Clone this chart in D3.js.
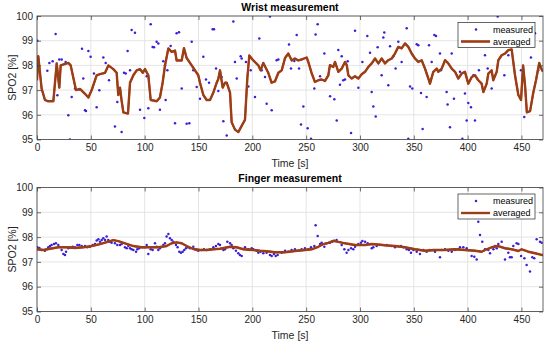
<!DOCTYPE html>
<html>
<head>
<meta charset="utf-8">
<script src="https://cdn.jsdelivr.net/npm/d3@7"></script>
<style>
  body { margin: 0; background: #fff; }
  svg { font-family: "Liberation Sans", Arial, sans-serif; }
</style>
</head>
<body>
<div id="wrapper"></div>
<script>
/* global d3 */

// ---- data ----
const xTicks = [0, 50, 100, 150, 200, 250, 300, 350, 400, 450]
const yTicks = [95, 96, 97, 98, 99, 100]

// wrist: measured points [time, spo2]
const wristMeasured = [
  [0.3,99.0],[9.6,97.78],[11.5,98.1],[14.5,98.17],[17.3,99.27],[18.9,96.79],[20.7,98.24],
  [22.9,98.24],[26.6,98.14],[29.1,95.98],[30.6,95.0],[32.2,96.72],[35.3,97.06],[39.3,97.02],
  [41.8,98.67],[43,97.47],[44.6,96.18],[45.5,96.15],[47.7,98.58],[49.8,98.35],[52.9,97.67],
  [55.4,96.31],[57.9,96.99],[61.6,98.32],[63.8,98.1],[66.9,97.4],[72.4,95.53],[74.6,96.52],
  [78.6,95.3],[80.8,97.7],[82.4,97.67],[84.2,98.58],[86.4,97.8],[87.9,99.43],[91,99.32],
  [95.7,96.2],[99.7,95.87],[101.9,97.56],[103.4,96.27],[105.6,99.67],[107.4,98.75],
  [108.7,98.73],[111.1,98.96],[112.7,98.89],[114.2,96.2],[117.3,98.17],[118.9,98.01],
  [119.5,96.6],[121.1,97.8],[124.2,98.79],[128.2,95.66],[129.7,99.3],[131.9,99.34],
  [134.4,97.06],[139,95.64],[141.5,95.66],[143.7,98.96],[145.2,97.8],[148.3,97.13],
  [151.4,96.65],[154.5,98.35],[157,97.43],[159.8,97.3],[163.2,99.46],[164.4,99.46],
  [166.3,97.87],[168.4,96.96],[171.5,97.53],[173.1,95.74],[176.2,95.16],[182.4,99.78],
  [183.9,98.14],[185.5,97.47],[189.2,98.37],[190.1,98.28],[194.1,98.14],[196.3,97.15],
  [198.5,97.8],[202.5,96.72],[206.5,99.09],[208.7,97.8],[211.8,97.53],[213.3,96.45],
  [216.4,99.98],[218,96.18],[222.6,98.21],[224.2,98.24],[234.1,98.85],[235.9,97.87],
  [239,98.18],[241.2,99.23],[243.4,97.87],[245.2,95.61],[247.4,96.34],[251.4,95.46],
  [254.5,95.03],[257.6,97.06],[258.8,99.25],[260.7,99.67],[262.9,97.56],[266.9,98.48],
  [272.2,96.75],[276.2,96.63],[278.4,95.77],[279.9,98.62],[281.4,97.22],[283,98.37],
  [284.5,97.4],[286.1,97.43],[288.6,98.17],[291.7,95.26],[295.4,99.4],[298.5,97.1],
  [302.2,98.14],[306.8,99.19],[309.3,98.51],[310.9,96.92],[312.4,96.34],[314.6,95.93],
  [316.4,98.73],[320.1,97.6],[321.7,99.13],[322.6,99.33],[326.3,97.2],[327.9,98.78],
  [331,98.37],[333.1,97.87],[335.6,98.96],[338.7,98.14],[343.4,99.5],[344.9,95.03],
  [346.5,97.15],[348.6,97.06],[352.7,98.86],[354.2,98.82],[356.7,96.88],[358.2,95.43],
  [361.9,96.72],[364.1,98.82],[366.6,98.14],[369.1,99.23],[370.6,99.19],[374.3,98.48],
  [375.2,97.8],[380.5,96.92],[381.4,96.42],[383.6,95.5],[385.2,98.48],[387.3,96.65],
  [392.9,97.74],[395.1,95.03],[397.5,96.86],[399.1,95.77],[400.6,96.48],[403.1,96.31],
  [405.3,97.6],[406.8,95.77],[407.8,99.46],[410.5,97.8],[416.1,98.41],[418.6,97.87],
  [422.3,97.06],[427.9,99.98],[434.1,97.6],[437.8,98.41],[449.5,97.8],[452.6,95.91],
  [458.8,98.32],[462.6,99.3],[465.6,97.8]
]

// wrist: averaged curve
const wristAveraged = [
  [0,97.4],[1.2,98.37],[4.3,97.06],[7.4,96.6],[10,96.55],[15.2,96.55],[18.3,98.08],
  [20.7,97.1],[22,98.0],[29.1,98.1],[31.3,98.0],[36.2,97.0],[39.9,97.05],[44.6,96.85],
  [47.7,96.7],[50.8,97.0],[55.4,97.6],[58.5,97.65],[63.2,97.7],[66.3,98.0],[70.9,97.85],
  [74,97.7],[75.5,96.8],[77.1,97.1],[78.5,96.6],[80.2,96.1],[84.5,96.05],[86.4,97.3],
  [89.5,97.6],[92.6,97.8],[95.7,97.85],[98.2,97.7],[100.3,97.85],[103.4,97.6],[105.6,96.6],
  [111.2,96.55],[114.2,96.7],[116.7,97.3],[118.9,98.0],[122,98.69],[125.1,98.55],
  [128.2,98.6],[129.7,98.2],[134.4,98.2],[136.5,98.7],[139,98.3],[142.1,98.1],[145.2,97.9],
  [149.8,97.6],[151.4,97.3],[154.5,96.8],[157.6,96.6],[160.7,96.6],[163.8,96.9],
  [166.9,97.3],[168.4,97.45],[170,97.8],[172.5,97.1],[174.6,97.3],[176.2,97.3],[179.3,96.9],
  [180.8,95.7],[183.9,95.4],[187,95.3],[190.1,95.55],[193.2,95.8],[195.4,97.5],[197.2,98.4],
  [200.9,98.2],[205.6,98.0],[207.7,97.8],[210.2,98.1],[214.8,97.7],[217.9,97.3],[221,97.35],
  [224.2,97.7],[227.3,97.8],[230.4,98.3],[233.4,98.48],[236.6,98.2],[239.6,98.28],
  [242.7,98.2],[245.9,98.24],[250.5,98.32],[252,98.14],[255.2,97.67],[258.2,97.33],
  [261.3,97.4],[264.4,97.43],[267.5,97.37],[270.6,97.6],[272.1,98.01],[275.2,97.94],
  [276.8,98.14],[279.9,97.74],[283,97.87],[286.1,98.14],[287.7,98.01],[289.2,97.6],
  [292.3,97.47],[295.4,97.56],[298.5,97.47],[301.6,97.64],[304.7,97.74],[307.8,97.94],
  [310.9,98.08],[314,98.28],[317.1,98.08],[320.2,98.28],[323.2,98.08],[326.3,98.21],
  [329.5,98.28],[332.5,98.48],[335.6,98.75],[338.7,98.69],[341.8,98.89],[344.9,98.75],
  [348,98.48],[351.1,98.28],[354.2,98.14],[357.3,98.21],[360.4,97.87],[363.5,97.47],
  [365,97.26],[368.1,97.74],[371.3,97.87],[372.7,97.74],[375.9,97.87],[379,98.21],
  [382,98.08],[385.2,97.87],[388.3,97.74],[391.3,97.47],[394.5,97.67],[397.5,97.74],
  [400.6,97.26],[403.8,97.53],[406.8,97.6],[409.9,97.4],[413,97.26],[414.6,96.92],
  [417.7,97.26],[419.2,97.67],[422.3,97.8],[423.8,97.4],[427,97.74],[428.5,98.21],
  [431.6,98.41],[434.7,98.48],[437.8,98.62],[440.9,98.65],[442.4,98.14],[444,97.6],
  [447.1,96.8],[449.6,96.6],[451.5,98.0],[453.3,97.2],[455,96.1],[458,96.15],[461,96.9],
  [463.5,97.4],[466.5,98.1],[468,97.9],[470,97.75]
]

// finger: measured points
const fingerMeasured = [
  [0.3,97.59],[2.2,97.56],[4.3,97.48],[7.4,97.45],[10.5,97.59],[12.1,97.64],[13.6,97.68],
  [15.8,97.72],[17.6,97.75],[19.8,97.68],[22.9,97.48],[24.5,97.32],[26,97.28],[27,97.41],
  [29.1,97.55],[30.6,97.59],[33.1,97.61],[35.3,97.59],[37.5,97.68],[39.3,97.68],[41.5,97.64],
  [44.6,97.64],[46.7,97.59],[49.2,97.61],[51.7,97.68],[53.9,97.72],[55.4,97.86],[57,97.91],
  [58.5,97.81],[60.1,97.88],[61.6,97.95],[63.2,97.88],[64.7,98.02],[66.2,97.88],[67.8,97.81],
  [69.3,97.77],[72.4,97.75],[74.6,97.68],[77.1,97.68],[78.6,97.72],[81.7,97.59],[83.3,97.55],
  [84.8,97.64],[86.4,97.55],[87.9,97.51],[89.5,97.48],[92,97.41],[93.2,97.51],[95,97.55],
  [98.1,97.59],[100.3,97.59],[101.9,97.68],[103.4,97.32],[105.6,97.51],[107.4,97.48],
  [109.6,97.75],[111.1,97.61],[112.7,97.48],[114.2,97.55],[117.3,97.68],[118.9,97.75],
  [120.4,98.02],[122,98.12],[123.5,97.95],[125.1,97.88],[126.6,97.81],[129.1,97.68],
  [130.6,97.59],[132.2,97.41],[133.7,97.37],[135.3,97.41],[136.8,97.48],[138.4,97.55],
  [140.5,97.59],[142.1,97.55],[145.2,97.61],[146.7,97.51],[148.3,97.48],[149.8,97.45],
  [152.9,97.48],[155.1,97.51],[157.6,97.48],[160.7,97.51],[163.8,97.59],[166.2,97.64],
  [168.4,97.72],[170,97.68],[173.1,97.48],[174.6,97.51],[176.8,97.81],[179.3,97.75],
  [180.8,97.68],[182.4,97.55],[184.8,97.45],[187,97.35],[188.5,97.28],[190.1,97.24],
  [193.2,97.59],[196.3,97.51],[197.8,97.48],[199.4,97.55],[200.9,97.51],[204,97.45],
  [205.6,97.37],[207.7,97.41],[210.2,97.35],[213.3,97.37],[216.4,97.28],[218,97.24],
  [220.1,97.32],[221.7,97.24],[223.5,97.28],[227.3,97.37],[230.4,97.45],[233.5,97.41],
  [236.5,97.48],[239.6,97.51],[242.7,97.45],[245.8,97.51],[248.9,97.55],[252,97.51],
  [254.5,97.59],[257.6,97.64],[258.8,98.48],[260.7,98.04],[262.9,97.72],[264.4,97.77],
  [266.9,97.61],[269.1,97.75],[272.2,97.77],[274.3,97.81],[276.2,97.85],[278.3,97.88],
  [283,97.68],[285.5,97.51],[287.6,97.37],[289.2,97.48],[291.7,97.55],[293.8,97.51],
  [295.4,97.61],[298.5,97.72],[300.9,97.77],[302.2,97.84],[304.7,97.81],[307.1,97.75],
  [310.9,97.55],[312.4,97.59],[315.5,97.64],[318.6,97.68],[324.8,97.68],[329.4,97.64],
  [332.5,97.59],[338.1,97.64],[340.3,97.59],[343.4,97.51],[345.5,97.48],[347.4,97.37],
  [349.6,97.48],[352.7,97.41],[355.7,97.32],[358.8,97.48],[361.9,97.41],[365,97.48],
  [368.1,97.48],[369.7,97.41],[374.3,97.19],[375.9,97.48],[379,97.51],[382.1,97.45],
  [385.2,97.41],[388.2,97.48],[391.4,97.51],[392.9,97.59],[396,97.59],[399.1,97.55],
  [403.7,97.24],[406.2,97.21],[408.4,97.1],[409.9,98.62],[411.5,98.08],[413.6,97.81],
  [416.1,97.51],[419.2,97.48],[420.8,97.35],[423.9,97.51],[425.4,97.64],[427,97.55],
  [428.5,97.72],[431.6,97.81],[434.7,97.1],[437.8,97.37],[439.3,97.19],[440.9,97.19],
  [442.4,97.64],[445.5,97.75],[447.1,97.72],[449.6,97.24],[452.7,97.15],[454.8,96.88],
  [457.9,96.61],[460.1,97.19],[461.9,97.15],[464.1,97.91],[467.2,97.81],[468.7,97.77]
]

// finger: averaged curve
const fingerAveraged = [
  [0,97.51],[5.9,97.48],[12.1,97.53],[19.8,97.59],[27.5,97.59],[35.3,97.56],[43,97.59],
  [50.8,97.64],[58.5,97.72],[64.7,97.8],[70.9,97.88],[75.5,97.84],[81.7,97.75],[89.5,97.64],
  [97.2,97.59],[105,97.59],[112.7,97.59],[120.4,97.64],[125.1,97.75],[129.7,97.79],
  [134.4,97.75],[139,97.64],[145.2,97.52],[151.4,97.48],[157.6,97.48],[163.8,97.51],
  [170,97.53],[179.3,97.61],[185.4,97.59],[191.6,97.51],[200.9,97.48],[207.1,97.45],
  [213.3,97.43],[221,97.39],[230.4,97.39],[239.6,97.44],[248.9,97.48],[255.1,97.51],
  [261.3,97.61],[266,97.72],[270.6,97.77],[275.2,97.85],[279.9,97.81],[286.1,97.75],
  [295.4,97.68],[304.7,97.68],[310.9,97.72],[317.1,97.7],[323.2,97.67],[332.5,97.64],
  [341.8,97.59],[351.1,97.51],[360.4,97.45],[369.7,97.48],[379,97.48],[388.2,97.51],
  [397.5,97.48],[406.8,97.45],[413,97.41],[417.7,97.51],[422.3,97.59],[428.5,97.64],
  [434.7,97.55],[440.9,97.51],[447.1,97.44],[450.2,97.51],[456.4,97.41],[462.6,97.35],
  [468.7,97.28],[470,97.28]
]

// ---- layout ----
const dimensions = {
  width: 550,
  height: 347,
  plotLeft: 37,
  plotRight: 543,
}

const panels = [
  {
    title: "Wrist measurement",
    measured: wristMeasured,
    averaged: wristAveraged,
    top: 16,
    bottom: 139.5,
  },
  {
    title: "Finger measurement",
    measured: fingerMeasured,
    averaged: fingerAveraged,
    top: 187.5,
    bottom: 311.5,
  },
]

const xAccessor = d => d[0]
const yAccessor = d => d[1]

const wrapper = d3.select("#wrapper")
  .append("svg")
  .attr("width", dimensions.width)
  .attr("height", dimensions.height)

const xScale = d3.scaleLinear()
  .domain([0, 470])
  .range([dimensions.plotLeft, dimensions.plotRight])

function drawPanel(panel, i) {
  const g = wrapper.append("g")
  const plotW = dimensions.plotRight - dimensions.plotLeft
  const plotH = panel.bottom - panel.top

  const yScale = d3.scaleLinear()
    .domain([95, 100])
    .range([panel.bottom, panel.top])

  // grid
  g.append("g")
    .selectAll("line")
    .data(xTicks)
    .join("line")
      .attr("x1", d => xScale(d)).attr("x2", d => xScale(d))
      .attr("y1", panel.top).attr("y2", panel.bottom)
      .attr("stroke", "#dedede").attr("stroke-width", 0.8)
  g.append("g")
    .selectAll("line")
    .data(yTicks)
    .join("line")
      .attr("x1", dimensions.plotLeft).attr("x2", dimensions.plotRight)
      .attr("y1", d => yScale(d)).attr("y2", d => yScale(d))
      .attr("stroke", "#dedede").attr("stroke-width", 0.8)

  // clip to plot area
  const clipId = `clip-${i}`
  g.append("clipPath").attr("id", clipId)
    .append("rect")
      .attr("x", dimensions.plotLeft).attr("y", panel.top)
      .attr("width", plotW).attr("height", plotH)

  const data = g.append("g").attr("clip-path", `url(#${clipId})`)

  // measured dots
  data.selectAll("circle")
    .data(panel.measured)
    .join("circle")
      .attr("cx", d => xScale(xAccessor(d)))
      .attr("cy", d => yScale(yAccessor(d)))
      .attr("r", 1.25)
      .attr("fill", "#3a1fd6")

  // averaged line (red halo under brown)
  const lineGenerator = d3.line()
    .x(d => xScale(xAccessor(d)))
    .y(d => yScale(yAccessor(d)))

  data.append("path")
    .attr("d", lineGenerator(panel.averaged))
    .attr("fill", "none")
    .attr("stroke", "#d8261a")
    .attr("stroke-width", 2.4)
    .attr("stroke-linejoin", "round")
  data.append("path")
    .attr("d", lineGenerator(panel.averaged))
    .attr("fill", "none")
    .attr("stroke", "#8a4716")
    .attr("stroke-width", 1.8)
    .attr("stroke-linejoin", "round")

  // axes
  const xAxis = g.append("g")
    .attr("transform", `translate(0, ${panel.bottom})`)
    .call(d3.axisBottom(xScale).tickValues(xTicks).tickSize(-4).tickPadding(4))
  const yAxis = g.append("g")
    .attr("transform", `translate(${dimensions.plotLeft}, 0)`)
    .call(d3.axisLeft(yScale).tickValues(yTicks).tickSize(-4).tickPadding(4)
      .tickFormat(d3.format("d")))
  const xAxisTop = g.append("g")
    .attr("transform", `translate(0, ${panel.top})`)
    .call(d3.axisTop(xScale).tickValues(xTicks).tickSize(-4).tickFormat(""))
  const yAxisRight = g.append("g")
    .attr("transform", `translate(${dimensions.plotRight}, 0)`)
    .call(d3.axisRight(yScale).tickValues(yTicks).tickSize(-4).tickFormat(""))

  ;[xAxis, yAxis, xAxisTop, yAxisRight].forEach(ax => {
    ax.select(".domain").remove()
    ax.selectAll(".tick line").attr("stroke", "#333").attr("stroke-width", 0.7)
    ax.selectAll(".tick text")
      .attr("fill", "#262626")
      .style("font-size", "10px")
      .style("font-family", "'Liberation Sans', Arial, sans-serif")
  })

  // frame
  g.append("rect")
    .attr("x", dimensions.plotLeft).attr("y", panel.top)
    .attr("width", plotW).attr("height", plotH)
    .attr("fill", "none")
    .attr("stroke", "#404040")
    .attr("stroke-width", 0.8)

  // title and labels
  g.append("text")
    .attr("x", (dimensions.plotLeft + dimensions.plotRight) / 2)
    .attr("y", panel.top - 5.5)
    .attr("text-anchor", "middle")
    .attr("font-weight", "bold")
    .style("font-size", "10.5px")
    .attr("fill", "#000")
    .text(panel.title)

  g.append("text")
    .attr("x", (dimensions.plotLeft + dimensions.plotRight) / 2)
    .attr("y", panel.bottom + 27.5)
    .attr("text-anchor", "middle")
    .style("font-size", "10.5px")
    .attr("fill", "#262626")
    .text("Time [s]")

  g.append("text")
    .attr("transform", `translate(15.5, ${(panel.top + panel.bottom) / 2}) rotate(-90)`)
    .attr("text-anchor", "middle")
    .style("font-size", "10.5px")
    .attr("fill", "#262626")
    .text("SPO2 [%]")

  // legend
  const lx = 458
  const ly = panel.top + 6.5
  const legend = g.append("g")
  legend.append("rect")
    .attr("x", lx).attr("y", ly)
    .attr("width", 77).attr("height", 25)
    .attr("fill", "#fff")
    .attr("stroke", "#262626")
    .attr("stroke-width", 0.7)
  legend.append("circle")
    .attr("cx", lx + 18).attr("cy", ly + 7)
    .attr("r", 1.25)
    .attr("fill", "#3a1fd6")
  legend.append("line")
    .attr("x1", lx + 3).attr("x2", lx + 32)
    .attr("y1", ly + 19).attr("y2", ly + 19)
    .attr("stroke", "#d8261a").attr("stroke-width", 2.4)
  legend.append("line")
    .attr("x1", lx + 3).attr("x2", lx + 32)
    .attr("y1", ly + 19).attr("y2", ly + 19)
    .attr("stroke", "#8a4716").attr("stroke-width", 1.8)
  legend.selectAll("text.lbl")
    .data(["measured", "averaged"])
    .join("text")
      .attr("class", "lbl")
      .attr("x", lx + 35)
      .attr("y", (d, j) => ly + 7 + j * 12)
      .attr("dy", "0.35em")
      .style("font-size", "9px")
      .attr("fill", "#000")
      .text(d => d)
}

panels.forEach(drawPanel)
</script>
</body>
</html>
